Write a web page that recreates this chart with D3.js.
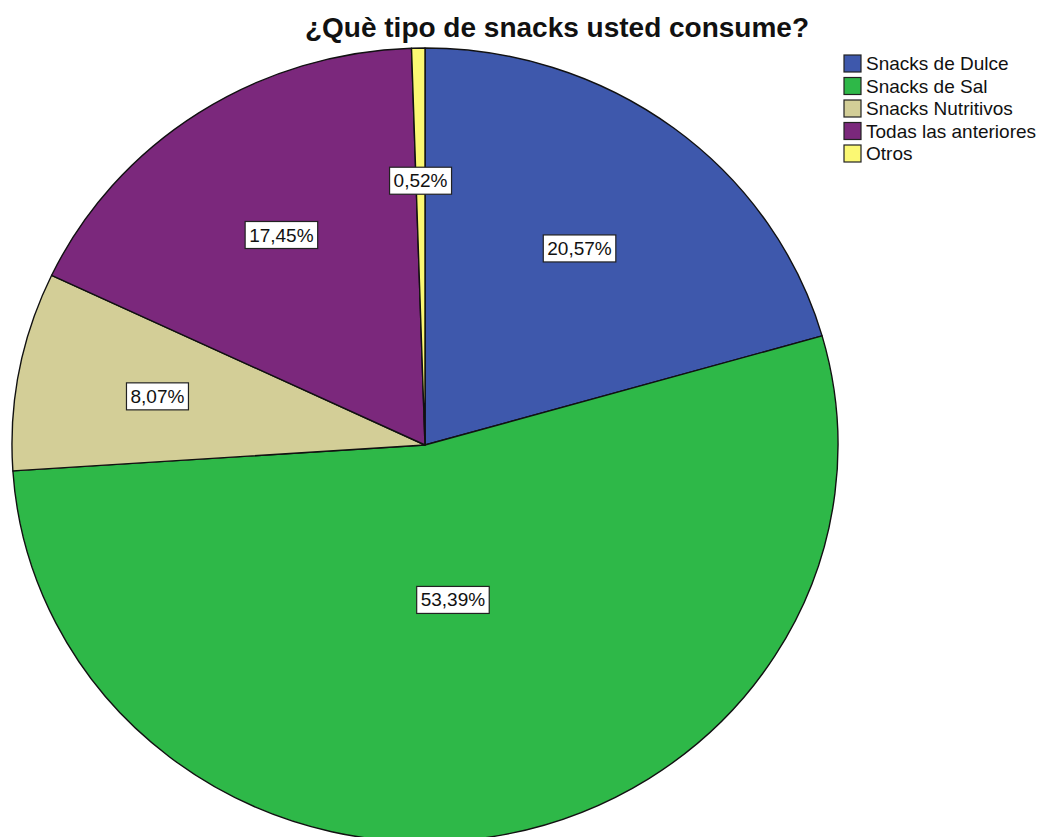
<!DOCTYPE html>
<meta charset="utf-8">
<style>
body {
  margin: 0;
  background: #fff;
}
text {
  font-family: "Liberation Sans", Arial, sans-serif;
}
</style>
<body>
<script src="https://d3js.org/d3.v7.min.js"></script>
<script>
// data
var categories = ["Snacks de Dulce", "Snacks de Sal", "Snacks Nutritivos", "Todas las anteriores", "Otros"];
var values = [20.57, 53.39, 8.07, 17.45, 0.52];
var colors = ["#3e58ac", "#2eb848", "#d3ce97", "#7b287c", "#fbf873"];
var title = "¿Què tipo de snacks usted consume?";

var width = 1045, height = 837;
var cx = 425, cy = 445;
var rx = 413, ry = 397;

var svg = d3.select("body").append("svg")
    .attr("width", width)
    .attr("height", height);

var color = d3.scaleOrdinal().domain(categories).range(colors);

var pie = d3.pie().sort(null).value(function(d) { return d.value; });
var data = categories.map(function(c, i) { return {name: c, value: values[i]}; });
var arcs = pie(data);

var arc = d3.arc().innerRadius(0).outerRadius(rx);

// pie is a bit squashed vertically, like the original
var g = svg.append("g")
    .attr("transform", "translate(" + cx + "," + cy + ") scale(1," + (ry / rx) + ")");

g.selectAll("path")
    .data(arcs)
  .enter().append("path")
    .attr("d", arc)
    .attr("fill", function(d) { return color(d.data.name); })
    .attr("stroke", "#111")
    .attr("stroke-width", 1.4)
    .attr("stroke-linejoin", "round")
    .attr("vector-effect", "non-scaling-stroke");

// labels near the area centroid of each slice
var fmt = function(v) { return v.toFixed(2).replace(".", ",") + "%"; };
var labels = svg.selectAll("g.lbl")
    .data(arcs)
  .enter().append("g")
    .attr("class", "lbl")
    .attr("transform", function(d) {
      var a = (d.startAngle + d.endAngle) / 2;
      var h = (d.endAngle - d.startAngle) / 2;
      var f = 2 * Math.sin(h) / (3 * h);
      var x = cx + rx * f * Math.sin(a);
      var y = cy - ry * f * Math.cos(a);
      return "translate(" + x + "," + y + ")";
    });

labels.append("text")
    .attr("text-anchor", "middle")
    .attr("dy", "0.36em")
    .style("font-size", "19px")
    .attr("fill", "#111")
    .text(function(d) { return fmt(d.data.value); });

labels.each(function() {
  var t = d3.select(this).select("text");
  var b = t.node().getBBox();
  d3.select(this).insert("rect", "text")
    .attr("x", b.x - 4)
    .attr("y", b.y - 3)
    .attr("width", b.width + 8)
    .attr("height", b.height + 6)
    .attr("fill", "#fff")
    .attr("stroke", "#222")
    .attr("stroke-width", 1.2);
});

// title
svg.append("text")
    .attr("x", 557)
    .attr("y", 37)
    .attr("text-anchor", "middle")
    .style("font-size", "28px")
    .style("font-weight", "bold")
    .attr("fill", "#111")
    .text(title);

// legend
var legend = svg.append("g").attr("transform", "translate(844,55)");
var row = legend.selectAll("g")
    .data(categories)
  .enter().append("g")
    .attr("transform", function(d, i) { return "translate(0," + (i * 22.5) + ")"; });

row.append("rect")
    .attr("width", 17)
    .attr("height", 17)
    .attr("fill", function(d) { return color(d); })
    .attr("stroke", "#222")
    .attr("stroke-width", 1.2);

row.append("text")
    .attr("x", 22)
    .attr("y", 8.5)
    .attr("dy", "0.36em")
    .style("font-size", "19px")
    .attr("fill", "#111")
    .text(function(d) { return d; });
</script>
</body>
